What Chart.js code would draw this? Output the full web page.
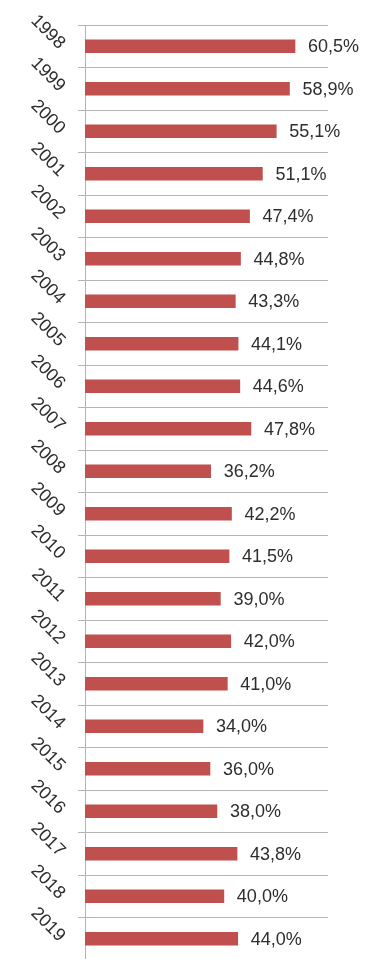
<!DOCTYPE html>
<html>
<head>
<meta charset="utf-8">
<script src="https://cdn.jsdelivr.net/npm/chart.js@4/dist/chart.umd.min.js"></script>
<style>
  html, body { margin: 0; padding: 0; background: #fff; overflow: hidden; }
  #wrap { width: 366px; height: 960px; }
</style>
</head>
<body>
<div id="wrap"><canvas id="chart" width="366" height="960"></canvas></div>
<script>
const years = ['1998', '1999', '2000', '2001', '2002', '2003', '2004', '2005', '2006', '2007', '2008',
  '2009', '2010', '2011', '2012', '2013', '2014', '2015', '2016', '2017', '2018', '2019'];
const shares = [60.5, 58.9, 55.1, 51.1, 47.4, 44.8, 43.3, 44.1, 44.6, 47.8, 36.2,
  42.2, 41.5, 39.0, 42.0, 41.0, 34.0, 36.0, 38.0, 43.8, 40.0, 44.0];

const ctx = document.getElementById('chart').getContext('2d');

// value labels to the right of each bar, comma as decimal separator
const barLabels = {
  id: 'barLabels',
  afterDatasetsDraw(chart) {
    const c = chart.ctx;
    const meta = chart.getDatasetMeta(0);
    c.save();
    c.font = '18px "Liberation Sans", Arial, sans-serif';
    c.fillStyle = '#2e2e2e';
    c.textAlign = 'left';
    c.textBaseline = 'middle';
    meta.data.forEach((bar, i) => {
      const txt = shares[i].toFixed(1).replace('.', ',') + '%';
      c.fillText(txt, bar.x + 13, bar.y + 1);
    });
    c.restore();
  }
};

new Chart(ctx, {
  type: 'bar',
  data: {
    labels: years,
    datasets: [{
      data: shares,
      backgroundColor: '#c0504d',
      barThickness: 13
    }]
  },
  options: {
    indexAxis: 'y',
    responsive: false,
    animation: false,
    layout: { padding: { top: 25, right: 38, left: 0, bottom: 0 } },
    plugins: { legend: { display: false }, tooltip: { enabled: false } },
    scales: {
      x: { display: false, min: 0, max: 70 },
      y: {
        offset: true,
        grid: { color: '#b4b4b4', offset: true, tickLength: 7 },
        border: { color: '#b4b4b4' },
        ticks: {
          color: '#2e2e2e',
          font: { family: '"Liberation Sans", Arial, sans-serif', size: 18 },
          minRotation: -45,
          maxRotation: -45,
          padding: 16
        },
        afterFit(scale) {
          scale.width = 85;
          scale.paddingTop = 0;
          scale.paddingBottom = 0;
        }
      }
    }
  },
  plugins: [barLabels]
});
</script>
</body>
</html>
